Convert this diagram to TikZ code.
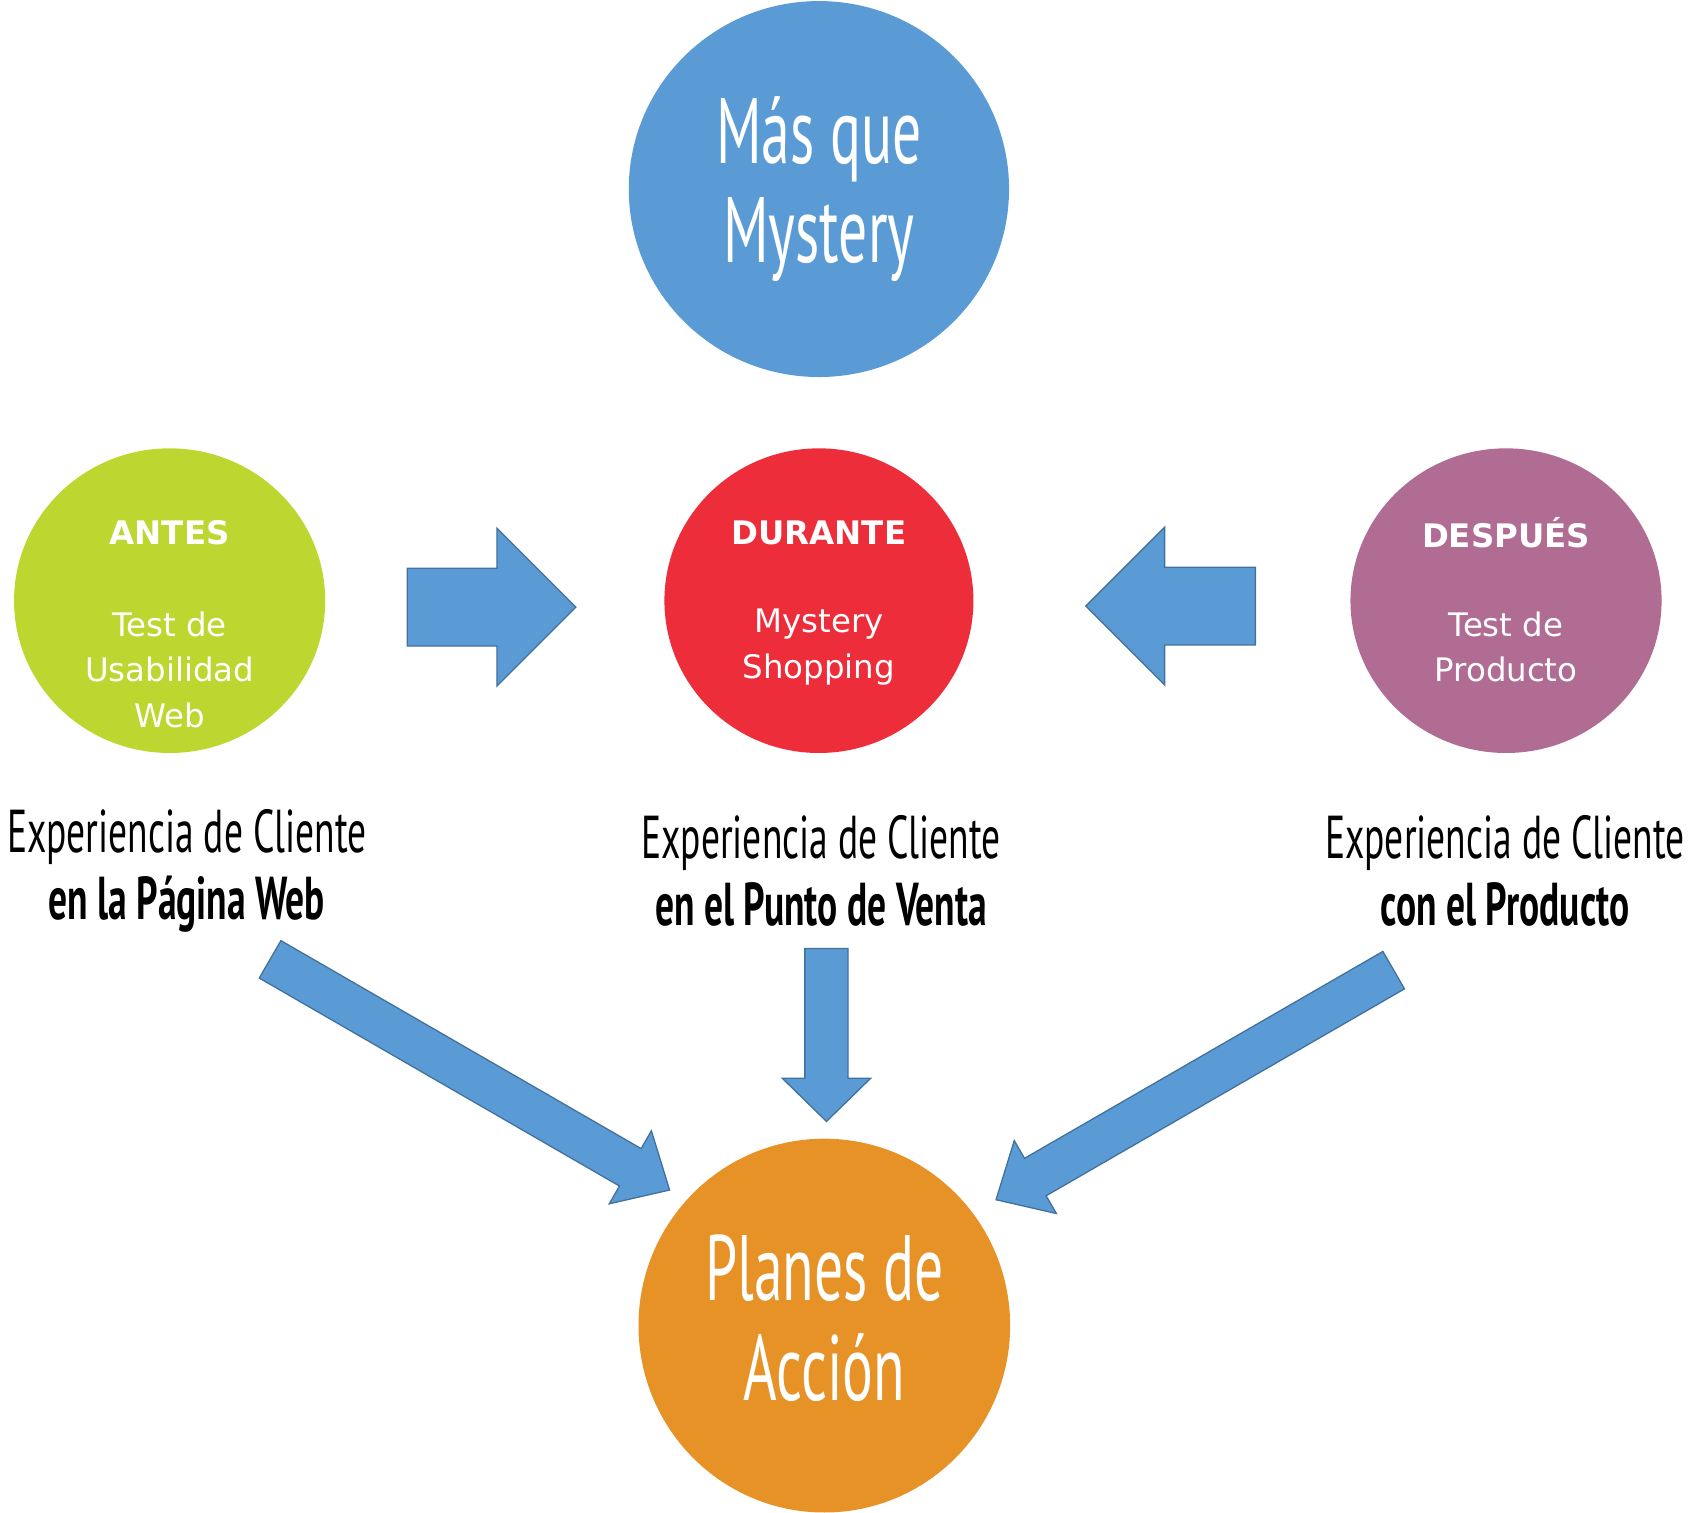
\documentclass[tikz,border=0pt]{standalone}
\usepackage{fontspec}
\setmainfont{DejaVu Sans}
\newfontfamily\hand{PT Sans}[FakeStretch=0.62]
\definecolor{cblue}{HTML}{5B9BD5}
\definecolor{cgreen}{HTML}{BED730}
\definecolor{cred}{HTML}{EE2D3A}
\definecolor{cpurple}{HTML}{B06C93}
\definecolor{corange}{HTML}{E79227}
\definecolor{bedge}{HTML}{41719C}
\newcommand\blockarrow[7]{% x y angle length halfbody halfhead headlen
 \draw[fill=cblue,draw=bedge,line width=1.2pt,shift={(#1,#2)},rotate=#3]
 (0,-#5) -- ({#4-#7},-#5) -- ({#4-#7},-#6) -- (#4,0) -- ({#4-#7},#6) -- ({#4-#7},#5) -- (0,#5) -- cycle;}
\begin{document}
\begin{tikzpicture}[x=1pt,y=1pt,
 circ/.style={ellipse,minimum width=#1,inner sep=0pt},
 lab/.style={text=white,align=center,font=\fontsize{30}{42}\selectfont},
 hw/.style={align=center,font=\hand\fontsize{56}{62}\selectfont},
 big/.style={text=white,align=center,font=\hand\fontsize{86}{92}\selectfont}]
\useasboundingbox (0,0) rectangle (1568,1400);
\fill[cblue] (758,1225) ellipse (176 and 174);
\node[big] (top) at (758,1225) {Más que\\Mystery};
\fill[cgreen] (157,844) ellipse (144 and 141);
\fill[cred] (758,844) ellipse (143 and 141);
\fill[cpurple] (1394,844) ellipse (144 and 141);
\fill[corange] (763,173) ellipse (172 and 173);
\node[big] (bot) at (763,180) {Planes de\\Acción};
\node[lab,font=\bfseries\fontsize{30}{42}\selectfont] (a1) at (157,907) {ANTES};
\node[lab] (a2) at (157,780) {Test de\\Usabilidad\\Web};
\node[lab,font=\bfseries\fontsize{30}{42}\selectfont] (d1) at (758,907) {DURANTE};
\node[lab] (d2) at (758,801) {Mystery\\Shopping};
\node[lab,font=\bfseries\fontsize{30}{42}\selectfont] (p1) at (1394,907) {DESPUÉS};
\node[lab] (p2) at (1394,801) {Test de\\Producto};
\node[hw] (t1) at (173,594) {Experiencia de Cliente\\\textbf{en la Página Web}};
\node[hw] (t2) at (760,594) {Experiencia de Cliente\\\textbf{en el Punto de Venta}};
\node[hw] (t3) at (1393,594) {Experiencia de Cliente\\\textbf{con el Producto}};
\blockarrow{377}{838}{0}{156}{36}{73}{73}
\blockarrow{1162}{839}{180}{157}{36}{73}{73}
\blockarrow{765}{522}{-90}{160}{20}{41}{40}
\blockarrow{250}{512}{-30}{427}{20}{39}{42}
\blockarrow{1290}{502}{210}{425}{20}{39}{42}
\end{tikzpicture}
\end{document}
